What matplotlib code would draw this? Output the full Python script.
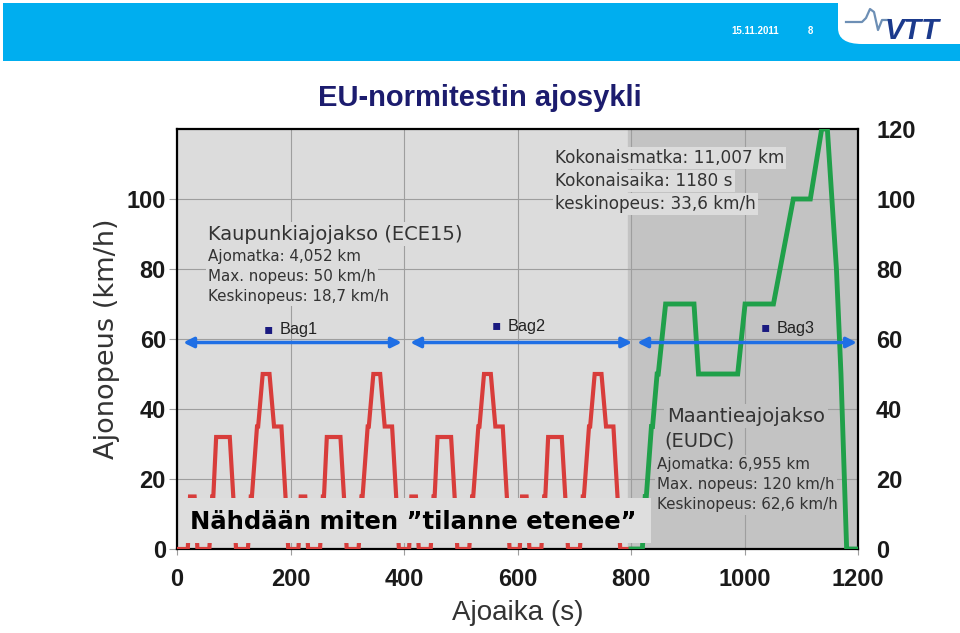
import matplotlib
matplotlib.use("Agg")
import matplotlib.pyplot as plt
from matplotlib.patches import Rectangle, FancyBboxPatch

# ECE15 urban cycle (one repetition) and EUDC extra-urban cycle, s / km/h
ece_t = [0, 11, 15, 23, 25, 28, 49, 54, 56, 61, 85, 93, 96, 117, 122, 124, 133, 135, 143, 155, 163, 176, 185, 188, 195]
ece_v = [0, 0, 15, 15, 10, 0, 0, 15, 15, 32, 32, 10, 0, 0, 15, 15, 35, 35, 50, 50, 35, 35, 10, 0, 0]
ece_starts = [8, 203, 398, 593]
ece_end = 800

eudc_t = [0, 20, 25, 27, 36, 38, 46, 48, 61, 111, 119, 188, 201, 251, 286, 316, 336, 346, 362, 370, 380, 400]
eudc_v = [0, 0, 15, 15, 35, 35, 50, 50, 70, 70, 50, 50, 70, 70, 100, 100, 120, 120, 80, 50, 0, 0]
eudc_start = 800

bag_names = ["Bag1", "Bag2", "Bag3"]
bag_from = [11, 411, 811]
bag_to = [396, 802, 1198]
bag_speed = 59

left_ticks = [0, 20, 40, 60, 80, 100]
right_ticks = [0, 20, 40, 60, 80, 100, 120]
x_ticks = [0, 200, 400, 600, 800, 1000, 1200]

# build the red (ECE) series
red_t = [0]
red_v = [0]
for s in ece_starts:
    red_t += [s + t for t in ece_t]
    red_v += ece_v
red_t.append(ece_end)
red_v.append(0)
green_t = [eudc_start + t for t in eudc_t]
green_v = eudc_v

W, H = 960, 633
fig = plt.figure(figsize=(W / 100, H / 100), dpi=100)
fig.patch.set_facecolor("white")

# header banner
fig.patches.append(Rectangle((3 / W, 1 - 61 / H), 1, 58 / H, transform=fig.transFigure,
                             facecolor="#00aeef", edgecolor="none"))
fig.patches.append(FancyBboxPatch((838 / W, 1 - 44 / H), 200 / W, 80 / H,
                                  boxstyle="round,pad=0,rounding_size=0.025",
                                  transform=fig.transFigure, facecolor="white", edgecolor="none"))
fig.text(755 / W, 1 - 31 / H, "15.11.2011", color="white", fontsize=7, fontweight="bold",
         ha="center", va="center", family="Liberation Sans")
fig.text(810 / W, 1 - 31 / H, "8", color="white", fontsize=7, fontweight="bold",
         ha="center", va="center", family="Liberation Sans")
pulse_x = [846, 862, 866, 870, 874, 878, 882, 888]
pulse_y = [22, 22, 18, 9, 12, 30, 20, 20]
fig.lines.append(plt.Line2D([p / W for p in pulse_x], [1 - p / H for p in pulse_y],
                            transform=fig.transFigure, color="#6d8fb5", lw=1.6))
fig.text(912 / W, 1 - 31 / H, "VTT", color="#1b3a8c", fontsize=21, fontweight="bold",
         style="italic", ha="center", va="center", family="Liberation Sans")

fig.text(480 / W, 1 - 98 / H, "EU-normitestin ajosykli", color="#1c1c6e", fontsize=21,
         fontweight="bold", ha="center", va="center", family="Liberation Sans")

# chart
ax = fig.add_axes([177 / W, 1 - 549 / H, 681 / W, 420 / H])
bg_light = "#dcdcdc"
bg_dark = "#c3c3c3"
ax.set_facecolor(bg_light)
ax.axvspan(795, 1200, color=bg_dark, zorder=0)
ax.set_xlim(0, 1200)
ax.set_ylim(0, 120)
ax.set_xticks(x_ticks)
ax.set_yticks(left_ticks)
ax.grid(True, color="#9e9e9e", lw=0.8, zorder=1)
ax.set_axisbelow(True)

ax.plot(red_t, red_v, color="#d83d3b", lw=3, zorder=3, solid_joinstyle="miter")
ax.plot(green_t, green_v, color="#20a04a", lw=3.5, zorder=3, solid_joinstyle="miter")

for sp in ax.spines.values():
    sp.set_linewidth(1.6)
    sp.set_color("black")

tick_family = "Liberation Sans"
ax.tick_params(axis="y", length=6, width=0.8, color="#9e9e9e", pad=2)
ax.tick_params(axis="x", length=4, width=0.8, color="#9e9e9e", pad=10)
for lab in ax.get_xticklabels() + ax.get_yticklabels():
    lab.set_fontfamily(tick_family)
    lab.set_fontsize(17)
    lab.set_fontweight("bold")
    lab.set_color("#1a1a1a")

ax2 = ax.twinx()
ax2.set_ylim(0, 120)
ax2.set_yticks(right_ticks)
ax2.tick_params(length=0, pad=13)
for lab in ax2.get_yticklabels():
    lab.set_fontfamily(tick_family)
    lab.set_fontsize(17)
    lab.set_fontweight("bold")
    lab.set_color("#1a1a1a")
for sp in ax2.spines.values():
    sp.set_visible(False)

ax.set_ylabel("Ajonopeus (km/h)", fontsize=19.5, color="#333333", labelpad=5,
              family="DejaVu Sans")
ax.set_xlabel("Ajoaika (s)", fontsize=20, color="#333333", labelpad=6,
              family="Liberation Sans")


def fx(px):
    return (px - 177) / 681


def fy(py):
    return (549 - py) / 420


txt = "#333333"
# total block
for i, s in enumerate(["Kokonaismatka: 11,007 km", "Kokonaisaika: 1180 s", "keskinopeus: 33,6 km/h"]):
    ax.text(fx(555), fy(158 + 23 * i), s, transform=ax.transAxes, fontsize=12.2, color=txt,
            va="center", ha="left", zorder=4,
            bbox=dict(facecolor=bg_light, edgecolor="none", pad=1.5))

# urban block
ax.text(fx(208), fy(234), "Kaupunkiajojakso (ECE15)", transform=ax.transAxes, fontsize=14,
        color=txt, va="center", ha="left", zorder=4,
        bbox=dict(facecolor=bg_light, edgecolor="none", pad=2))
for i, s in enumerate(["Ajomatka: 4,052 km", "Max. nopeus: 50 km/h", "Keskinopeus: 18,7 km/h"]):
    ax.text(fx(208), fy(256 + 20 * i), s, transform=ax.transAxes, fontsize=10.9, color=txt,
            va="center", ha="left", zorder=4,
            bbox=dict(facecolor=bg_light, edgecolor="none", pad=1.5))

# extra-urban block
ax.text(fx(667), fy(416), "Maantieajojakso", transform=ax.transAxes, fontsize=14,
        color=txt, va="center", ha="left", zorder=4,
        bbox=dict(facecolor=bg_dark, edgecolor="none", pad=2))
ax.text(fx(664), fy(441), "(EUDC)", transform=ax.transAxes, fontsize=14,
        color=txt, va="center", ha="left", zorder=4,
        bbox=dict(facecolor=bg_dark, edgecolor="none", pad=2))
for i, s in enumerate(["Ajomatka: 6,955 km", "Max. nopeus: 120 km/h", "Keskinopeus: 62,6 km/h"]):
    ax.text(fx(657), fy(465 + 20 * i), s, transform=ax.transAxes, fontsize=10.9, color=txt,
            va="center", ha="left", zorder=4,
            bbox=dict(facecolor=bg_dark, edgecolor="none", pad=1.5))

# bag arrows
label_px = [(268, 329), (496, 325), (765, 327)]
for name, a, b, (lx, ly) in zip(bag_names, bag_from, bag_to, label_px):
    ax.annotate("", xy=(b, bag_speed), xytext=(a, bag_speed),
                arrowprops=dict(arrowstyle="<|-|>", color="#1f6fe5", lw=2.5,
                                mutation_scale=15, shrinkA=0, shrinkB=0), zorder=5)
    ax.text(fx(lx), fy(ly), "\u25aa", transform=ax.transAxes, fontsize=10, color="#1a1a80",
            va="center", ha="center", zorder=5, family="DejaVu Sans")
    ax.text(fx(lx + 12), fy(ly + 1), name, transform=ax.transAxes, fontsize=11.7, color="#222222",
            va="center", ha="left", zorder=5, family="Liberation Sans")

# caption box over the bottom of the chart
ax.add_patch(Rectangle((fx(180), fy(543)), fx(651) - fx(180), fy(498) - fy(543),
                       transform=ax.transAxes, facecolor="#dedede", edgecolor="none", zorder=6))
ax.text(fx(190), fy(522), "Nähdään miten \u201dtilanne etenee\u201d", transform=ax.transAxes,
        fontsize=17.5, fontweight="bold", color="black", va="center", ha="left", zorder=7)

fig.savefig("out.png", dpi=100)
